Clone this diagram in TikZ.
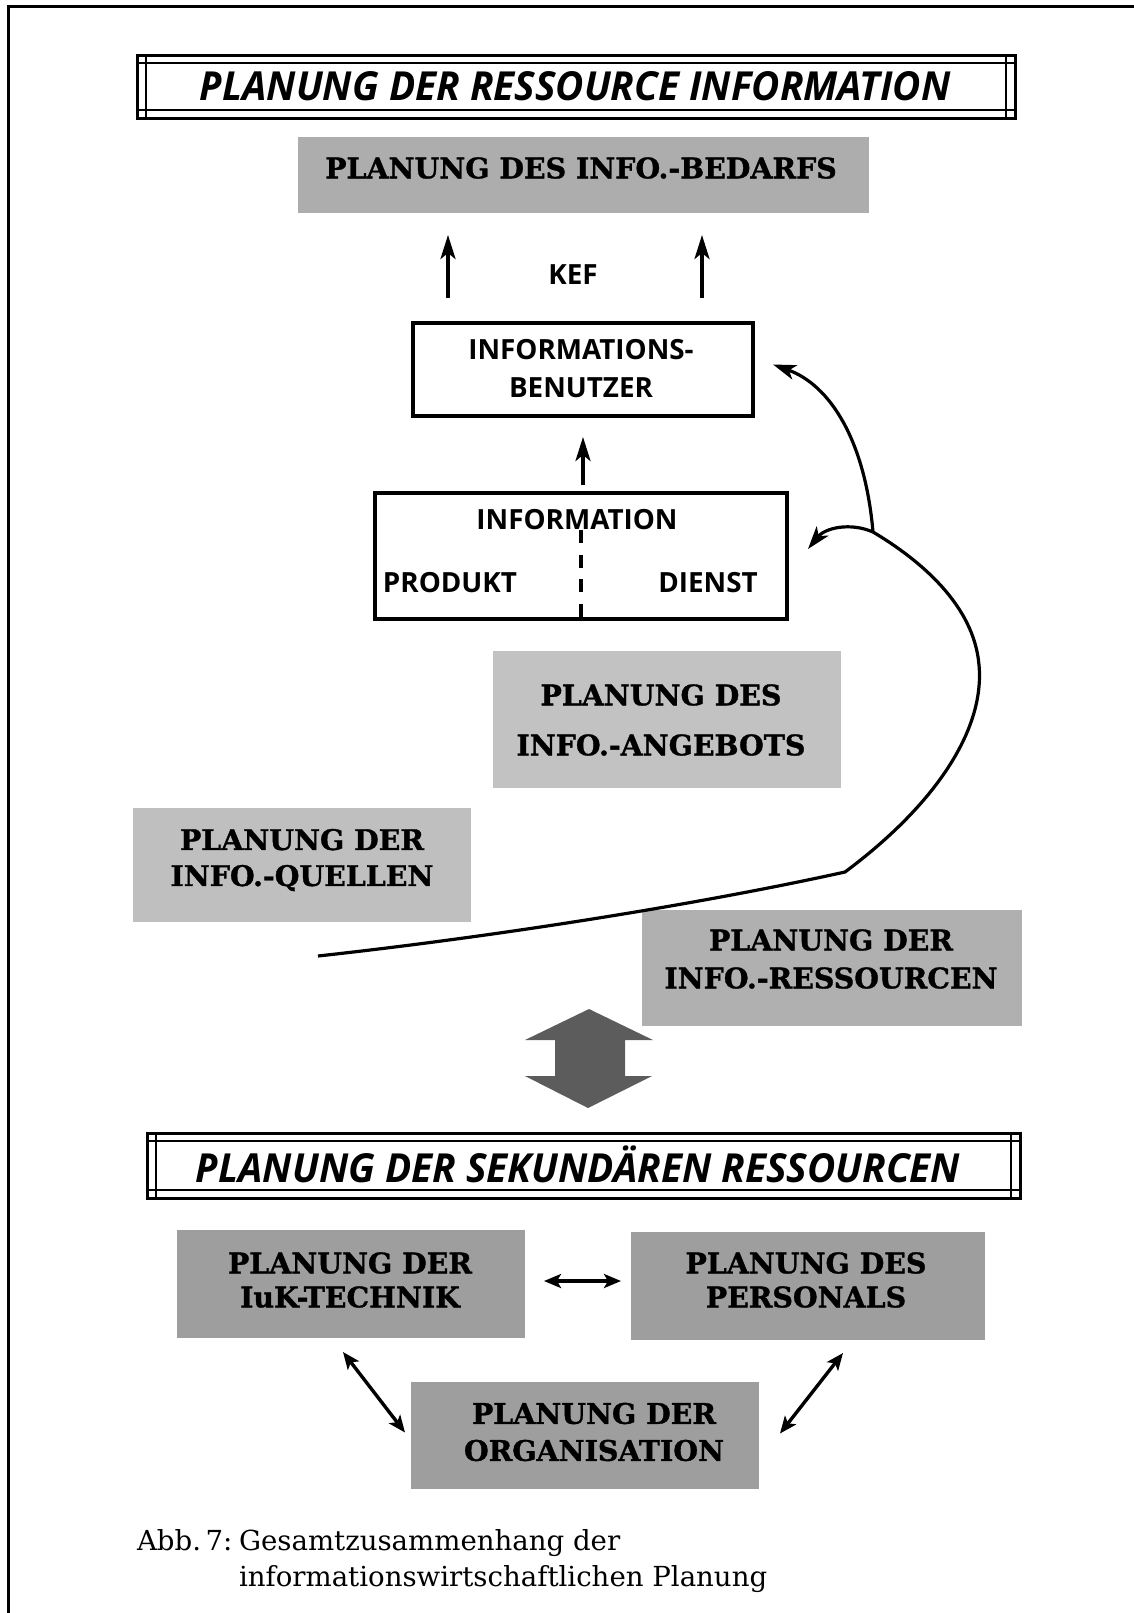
\documentclass[tikz,border=0pt]{standalone}
\usepackage{fontspec}
\usetikzlibrary{arrows.meta,calc,fit}
\setmainfont{DejaVu Serif}
\newfontfamily\framesans{Open Sans}
\newfontfamily\headsans{Open Sans}[FakeStretch=0.97]
\newfontfamily\heavyserif{DejaVu Serif}[FakeBold=1.2]

% inner rules of a double-lined heading frame (corner squares come from the crossing rules)
\newcommand\doubleframe[1]{%
  \draw[innerrule] ($(#1.north west)+(0,8)$) -- ($(#1.north east)+(0,8)$);
  \draw[innerrule] ($(#1.south west)+(0,-8)$) -- ($(#1.south east)+(0,-8)$);
  \draw[innerrule] ($(#1.north west)+(9,0)$) -- ($(#1.south west)+(9,0)$);
  \draw[innerrule] ($(#1.north east)+(-9,0)$) -- ($(#1.south east)+(-9,0)$);}

\begin{document}
\begin{tikzpicture}[x=0.5pt,y=-0.5pt,
  every node/.style={inner sep=0pt,outer sep=0pt},
  headframe/.style={draw,line width=1.5pt},
  headtext/.style={font=\headsans\bfseries\itshape\fontsize{20}{24}\selectfont},
  innerrule/.style={line width=0.9pt},
  halftone/.style={fill=black!#1,draw=none},
  shadetext/.style={font=\heavyserif\bfseries\fontsize{14.2}{17}\selectfont,align=center},
  plainbox/.style={draw,line width=1.6pt},
  boxtext/.style={font=\framesans\bfseries\fontsize{13.9}{19}\selectfont,align=center},
  liftarrow/.style={line width=1.8pt,-{Stealth[length=12pt,width=7.5pt,inset=3pt]}},
  loopline/.style={line width=1.6pt},
  looparrow/.style={line width=1.6pt,-{Stealth[length=11.5pt,width=7.5pt,inset=3pt]}},
  linkarrow/.style={line width=1.7pt,{Stealth[length=8.5pt,width=7pt,inset=2pt]}-{Stealth[length=8.5pt,width=7pt,inset=2pt]}},
  divider/.style={line width=1.6pt,dash pattern=on 6.5pt off 5.8pt},
  caption/.style={font=\fontsize{13.8}{16}\selectfont,anchor=base west}
]
\useasboundingbox (0,0) rectangle (1134,1613);

% page rule, left and top
\draw[line width=1.5pt] (8,1613) -- (8,6) -- (1134,6);

% ---- upper part: the resource information ----
\node[headframe,fit={(137,55) (1015,118)}] (head1) {};
\doubleframe{head1}
\node[headtext] (head1-t) at (575,86) {PLANUNG DER RESSOURCE INFORMATION};

\node[halftone=32,fit={(298,137) (869,213)}] (bedarf) {};
\node[shadetext] (bedarf-t) at (581,168) {PLANUNG DES INFO.-BEDARFS};

\node[boxtext] (kef) at (573,275) {KEF};

\node[plainbox,fit={(413,323) (753,416)}] (user) {};
\node[boxtext] (user-t) at (581,369) {INFORMATIONS-\\BENUTZER};

\node[plainbox,fit={(375,493) (787,619)}] (info) {};
\node[boxtext] (info-head) at (577,520) {INFORMATION};
\node[boxtext] (info-prod) at (450,583) {PRODUKT};
\node[boxtext] (info-serv) at (708,583) {DIENST};
\draw[divider] (info-head.south -| info.south) -- (info.south);

\draw[liftarrow] ([xshift=-67.5pt,yshift=12.5pt]user.north) -- ([xshift=-67.75pt,yshift=-11pt]bedarf.south);
\draw[liftarrow] ([xshift=59.5pt,yshift=12.5pt]user.north) -- ([xshift=59.25pt,yshift=-11pt]bedarf.south);
\draw[liftarrow] ([xshift=1pt,yshift=4pt]info.north) -- ([yshift=-10.5pt]user.south);

\node[halftone=24,fit={(493,651) (841,788)}] (offer) {};
\node[shadetext] (offer-t) at (661,720) {PLANUNG DES\\[8pt]INFO.-ANGEBOTS};

\node[halftone=25,fit={(133,808) (471,922)}] (sources) {};
\node[shadetext] (sources-t) at (302,860) {PLANUNG DER\\[1pt]INFO.-QUELLEN};

\node[halftone=31,fit={(642,910) (1022,1026)}] (res) {};
\node[shadetext] (res-t) at (831,959) {PLANUNG DER\\[2pt]INFO.-RESSOURCEN};

% feedback curve from the sources up to product/service and user
\coordinate (cstart) at (318,956);
\coordinate (ckink) at (845,872);
\coordinate (cbulge) at (979,665);
\coordinate (cfork) at (873,532);
\coordinate (tipuser) at ($(user.east)+(20,-5)$);
\coordinate (tipinfo) at ($(info.east)+(21,-7)$);
\draw[loopline] (cstart) .. controls (500,936) and (700,904) .. (ckink)
  .. controls (935,805) and (985,730) .. (cbulge)
  .. controls (974,605) and (920,560) .. (cfork);
\draw[looparrow] (cfork) .. controls (865,440) and (830,385) .. (tipuser);
\draw[looparrow] (cfork) .. controls (850,522) and (825,528) .. (tipinfo);

% two-way block arrow between the two levels
\fill[black!64] (589,1009) -- (653,1040) -- (625,1040) -- (625,1076) -- (652,1076)
  -- (588,1108) -- (525,1076) -- (555,1076) -- (555,1040) -- (525,1040) -- cycle;

% ---- lower part: secondary resources ----
\node[headframe,fit={(147,1133) (1020,1198)}] (head2) {};
\doubleframe{head2}
\node[headtext] (head2-t) at (578,1164) {PLANUNG DER SEKUNDÄREN RESSOURCEN};

\node[halftone=38,fit={(177,1230) (525,1338)}] (tech) {};
\node[shadetext] (tech-t) at (350,1280) {PLANUNG DER\\IuK-TECHNIK};
\node[halftone=38,fit={(631,1232) (985,1340)}] (staff) {};
\node[shadetext] (staff-t) at (806,1280) {PLANUNG DES\\PERSONALS};
\node[halftone=38,fit={(411,1382) (759,1489)}] (org) {};
\node[shadetext] (org-t) at (594,1432) {PLANUNG DER\\[1.5pt]ORGANISATION};

\draw[linkarrow] ([xshift=9.5pt,yshift=1.5pt]tech.east) -- ([xshift=-5pt,yshift=2.5pt]staff.west);
\draw[linkarrow] ([xshift=-4pt,yshift=-7pt]tech.south) -- ([xshift=-3pt,yshift=1.5pt]org.west);
\draw[linkarrow] ([xshift=17.5pt,yshift=-6.5pt]staff.south) -- ([xshift=10.5pt,yshift=1pt]org.east);

% caption
\node[caption] (cap-no) at (137,1550) {Abb.\,7:};
\node[caption] (cap-a) at (239,1550) {Gesamtzusammenhang der};
\node[caption] (cap-b) at (239,1586) {informationswirtschaftlichen Planung};
\end{tikzpicture}
\end{document}
